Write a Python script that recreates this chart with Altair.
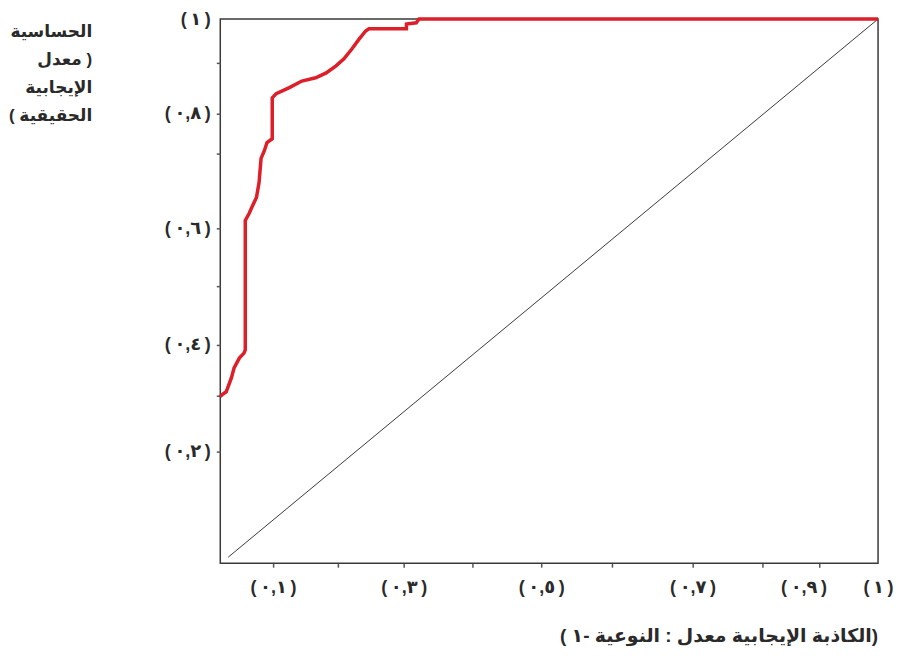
import json
import altair as alt
import pandas as pd

# ROC curve (false positive rate, true positive rate)
fpr = [0.000, 0.003, 0.009, 0.017, 0.021, 0.029, 0.036, 0.038, 0.038, 0.044,
       0.048, 0.055, 0.059, 0.062, 0.067, 0.071, 0.079, 0.079, 0.085, 0.105,
       0.124, 0.145, 0.161, 0.176, 0.188, 0.200, 0.211, 0.221, 0.226, 0.283,
       0.283, 0.298, 0.302, 1.000]
tpr = [0.306, 0.310, 0.315, 0.341, 0.359, 0.377, 0.386, 0.392, 0.630, 0.643,
       0.654, 0.672, 0.700, 0.744, 0.758, 0.773, 0.780, 0.855, 0.863, 0.874,
       0.886, 0.892, 0.901, 0.914, 0.927, 0.945, 0.963, 0.978, 0.982, 0.982,
       0.991, 0.993, 1.000, 1.000]

# reference diagonal
diag_x = [0.012, 1.0]
diag_y = [0.011, 1.0]

# axis ticks and their labels
x_ticks = [0.080, 0.179, 0.279, 0.383, 0.488, 0.595, 0.718, 0.824, 0.911, 1.0]
x_labels = ["(٠,١)", "", "(٠,٣)", "", "(٠,٥)", "", "(٠,٧)", "", "(٠,٩)", "(١)"]
y_ticks = [0.205, 0.308, 0.401, 0.509, 0.615, 0.753, 0.826, 0.919, 1.0]
y_labels = ["(٠,٢)", "", "(٠,٤)", "", "(٠,٦)", "", "(٠,٨)", "", "(١)"]

# titles (logical order for right-to-left rendering)
y_title = ["الحساسية", "معدل )", "الإيجابية", "( الحقيقية"]
x_title = "( الكاذبة الإيجابية معدل : النوعية -١)"

roc = pd.DataFrame({"fpr": fpr, "tpr": tpr, "order": list(range(len(fpr)))})
diag = pd.DataFrame({"fpr": diag_x, "tpr": diag_y})


def spaced(s):
    # a little air inside the parentheses, as in the picture
    if not s:
        return s
    return s.replace("(", "(\u2009").replace(")", "\u2009)")


def label_expr(ticks, labels):
    return "%s[indexof(%s, datum.value)]" % (
        json.dumps([spaced(l) for l in labels], ensure_ascii=False), json.dumps(ticks))


FONT = "Liberation Sans, DejaVu Sans"
INK = "#2a2a2a"
TICK = {"condition": {"test": "datum.value >= 1", "value": "transparent"}, "value": "#555"}

x_axis = alt.Axis(
    values=x_ticks, labelExpr=label_expr(x_ticks, x_labels),
    domain=False, grid=False, tickSize=4, tickWidth=1.5, tickColor=TICK,
    labelOffset={"condition": {"test": "datum.value > 0.9 && datum.value < 0.95", "value": -16}, "value": 0},
    labelFont=FONT, labelFontSize=18, labelFontWeight="bold", labelColor=INK,
    labelPadding=11, labelOverlap=False, labelFlush=False, labelBound=False,
    title=x_title, titleFont=FONT, titleFontSize=19, titleFontWeight="bold",
    titleColor=INK, titleAlign="center", titleBaseline="middle",
    titleX=500, titleY=73, titleAngle=0,
)
y_axis = alt.Axis(
    values=y_ticks, labelExpr=label_expr(y_ticks, y_labels),
    domain=False, grid=False, tickSize=4, tickWidth=1.5, tickColor=TICK,
    labelFont=FONT, labelFontSize=18, labelFontWeight="bold", labelColor=INK,
    labelPadding=6, labelOverlap=False, labelFlush=False, labelBound=False,
    labelBaseline="middle",
    title=y_title, titleFont=FONT, titleFontSize=17, titleFontWeight="bold",
    titleColor=INK, titleAlign="right", titleBaseline="top", titleAngle=0,
    titleX=-129, titleY=5, titleLineHeight=28,
)

x_enc = alt.X("fpr:Q", scale=alt.Scale(domain=[0, 1], nice=False, zero=False), axis=x_axis)
y_enc = alt.Y("tpr:Q", scale=alt.Scale(domain=[0, 1], nice=False, zero=False), axis=y_axis)

diag_line = alt.Chart(diag).mark_line(color="#3a3a3a", strokeWidth=1).encode(x=x_enc, y=y_enc)
roc_line = alt.Chart(roc).mark_line(color="#dc1f28", strokeWidth=3.5, strokeJoin="miter").encode(
    x="fpr:Q", y="tpr:Q", order="order:Q")

chart = (
    alt.layer(diag_line, roc_line)
    .properties(
        width=660, height=546,
        autosize=alt.AutoSizeParams(type="none"),
        padding={"left": 213, "top": 10, "right": 15, "bottom": 82},
        background="white",
    )
    .configure_view(stroke="#3a3a3a", strokeWidth=1.5)
)

chart.save("out.html", embed_options={"renderer": "svg", "actions": False})
